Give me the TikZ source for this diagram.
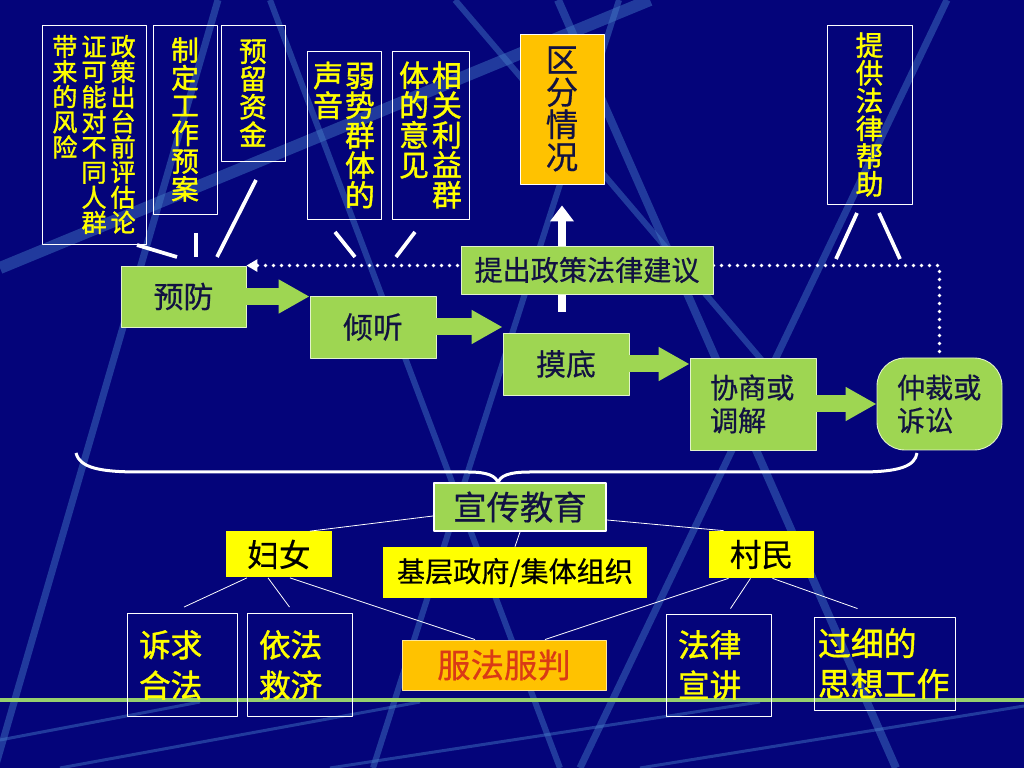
\documentclass[tikz,border=0pt]{standalone}
\usepackage{fontspec}
\setmainfont{Noto Sans CJK SC}[FakeBold=0.6]
\newfontfamily\heavyhei{Noto Sans CJK SC}[FakeBold=1.3]
\usetikzlibrary{arrows.meta,calc}
\definecolor{bgnavy}{RGB}{4,4,122}
\definecolor{bgstripe}{RGB}{70,125,200}
\definecolor{boxgreen}{RGB}{158,214,82}
\definecolor{boxyellow}{RGB}{255,255,0}
\definecolor{boxamber}{RGB}{255,194,0}
\definecolor{textnavy}{RGB}{18,18,66}
\definecolor{textred}{RGB}{218,58,22}
\definecolor{linegreen}{RGB}{150,208,110}

% vertical column of characters, top aligned
\ExplSyntaxOn
\NewDocumentCommand\vcol{m}{\vtop{\lineskiplimit=-20pt\relax\tl_map_inline:nn{#1}{\hbox{##1}}}}
\ExplSyntaxOff

\begin{document}
\begin{tikzpicture}[x=0.2mm, y=-0.2mm, line join=round,
  topbox/.style={draw=white, line width=0.5pt, text=boxyellow, inner sep=0pt},
  stepbox/.style={draw=white!70!boxgreen, line width=0.5pt, fill=boxgreen, text=textnavy, inner sep=0pt},
  flow/.style={draw=boxgreen, line width=3.4mm, -{Triangle[length=6.2mm,width=6.4mm]}},
  stroke/.style={draw=white, line width=0.75mm},
  twig/.style={draw=white, line width=0.45pt},
  tagbox/.style={fill=boxyellow, text=black, inner sep=0pt},
  leafbox/.style={draw=white, line width=0.5pt, text=boxyellow, align=left, inner ysep=0pt},
  stripe/.style={draw=bgstripe, opacity=0.45}]
  \useasboundingbox (0,0) rectangle (1024,768);

  % Background and light stripes
  \fill[bgnavy] (0,0) rectangle (1024,768);
  \begin{scope}
    \clip (0,0) rectangle (1024,768);
    \draw[stripe, line width=2.4mm] (0,268) -- (650,0);
    \draw[stripe, line width=1.4mm] (218,0) -- (-5,768);
    \draw[stripe, line width=1.2mm] (270,0) -- (560,768);
    \draw[stripe, line width=1.2mm] (619,0) -- (373,768);
    \draw[stripe, line width=1.6mm] (558,0) -- (896,768);
    \draw[stripe, line width=1.4mm] (947,0) -- (580,768);
    \draw[stripe, line width=1.2mm] (455,0) -- (800,405);
    \draw[stripe, line width=0.6mm] (60,768) -- (420,702);
    \draw[stripe, line width=0.6mm] (330,768) -- (760,702);
    \draw[stripe, line width=0.6mm] (640,768) -- (1024,706);
    \draw[stripe, line width=0.6mm] (0,740) -- (200,702);
  \end{scope}
  \draw[linegreen, line width=0.7mm] (0,700) -- (1024,700);

  % Top notes
  \node[topbox, minimum width=20.8mm, minimum height=43.8mm, font=\heavyhei\fontsize{14.3}{14.3}\selectfont] (pinggu) at (94,134.5)
    {\vcol{带来的风险}\hspace{0.8mm}\vcol{证可能对不同人群}\hspace{0.8mm}\vcol{政策出台前评估论}};
  \node[topbox, minimum width=12.8mm, minimum height=37.8mm, font=\heavyhei\fontsize{15.8}{15.8}\selectfont] (yuan) at (185,119.5)
    {\vcol{制定工作预案}};
  \node[topbox, minimum width=12.8mm, minimum height=27.2mm, font=\heavyhei\fontsize{15.8}{15.8}\selectfont] (zijin) at (253,93)
    {\vcol{预留资金}};
  \node[topbox, minimum width=14.8mm, minimum height=33.6mm, font=\heavyhei\fontsize{17}{17}\selectfont] (ruoshi) at (344,135)
    {\vcol{声音}\hspace{0.4mm}\vcol{弱势群体的}};
  \node[topbox, minimum width=15.4mm, minimum height=33.6mm, font=\heavyhei\fontsize{17}{17}\selectfont] (liyi) at (430.5,135)
    {\vcol{体的意见}\hspace{0.6mm}\vcol{相关利益群}};
  \node[topbox, fill=boxamber, text=textnavy, minimum width=16.8mm, minimum height=30mm, font=\fontsize{18.4}{18.4}\selectfont] (qufen) at (562,109)
    {\vcol{区分情况}};
  \node[topbox, minimum width=17mm, minimum height=35.8mm, font=\heavyhei\fontsize{15.8}{15.8}\selectfont] (bangzhu) at (869.5,114.5)
    {\vcol{提供法律帮助}};

  % Short strokes under the notes
  \draw[stroke] (137,245) -- (177,257);
  \draw[stroke] (196,233) -- (196,257);
  \draw[stroke] (256,180) -- (217,257);
  \draw[stroke] (335,232) -- (355,257);
  \draw[stroke] (415,232) -- (396,257);
  \draw[stroke] (857,213) -- (836,259);
  \draw[stroke] (879,213) -- (900,259);

  % Steps
  \node[stepbox, minimum width=25mm, minimum height=12.2mm, font=\fontsize{17}{17}\selectfont] (yufang) at (183.5,296.5) {预防};
  \node[stepbox, minimum width=25.2mm, minimum height=12.4mm, font=\fontsize{17}{17}\selectfont] (qingting) at (373,327) {倾听};
  \node[stepbox, minimum width=25.2mm, minimum height=12.4mm, font=\fontsize{17}{17}\selectfont] (modi) at (566,364) {摸底};
  \node[stepbox, align=left, inner xsep=4mm, text width=17.2mm, minimum height=18.4mm, font=\fontsize{16}{18.7}\selectfont] (xieshang) at (753,404) {协商或\\调解};
  \node[stepbox, rounded corners=5.6mm, align=left, inner xsep=4mm, text width=17mm, minimum height=18.4mm, font=\fontsize{16}{18.7}\selectfont] (zhongcai) at (939.5,404) {仲裁或\\诉讼};

  \draw[flow] (yufang.east) -- (qingting.west |- yufang.east);
  \draw[flow] (qingting.east) -- (modi.west |- qingting.east);
  \draw[flow] (modi.east) -- (xieshang.west |- modi.east);
  \draw[flow] (xieshang.east) -- (zhongcai.west);

  % Feedback and proposal
  \coordinate (upfoot) at (562,312);
  \draw[white, line width=1.6mm, -{Triangle[length=3.2mm,width=4.6mm]}, shorten >=4.2mm] (upfoot) -- (qufen.south);
  \draw[white, line width=0.75mm, line cap=round, dash pattern=on 0pt off 1.6mm, shorten <=1.2mm,
    -{Triangle[length=2.2mm,width=2.4mm]}] (zhongcai.north) |- (yufang.north east);
  \node[stepbox, minimum width=50.4mm, minimum height=9.6mm, font=\fontsize{16}{16}\selectfont] (tichu) at (587,270) {提出政策法律建议};

  % Brace
  \draw[white, line width=0.6mm] (76,453) .. controls (80,468) and (100,472) .. (140,472) -- (468,472)
    .. controls (488,472) and (496,476) .. (498,483) .. controls (500,476) and (508,472) .. (530,472)
    -- (860,472) .. controls (900,472) and (915,466) .. (917,453);

  % Education tree
  \node[stepbox, draw=white, line width=1.2pt, minimum width=34.4mm, minimum height=9.6mm, font=\fontsize{19}{19}\selectfont] (xuanchuan) at (520,507) {宣传教育};
  \node[tagbox, minimum width=21.2mm, minimum height=9.2mm, font=\fontsize{18}{18}\selectfont] (funv) at (279,554.5) {妇女};
  \node[tagbox, minimum width=52.8mm, minimum height=10.2mm, font=\fontsize{16}{16}\selectfont] (jiceng) at (515,572.5) {基层政府/集体组织};
  \node[tagbox, minimum width=21mm, minimum height=9.4mm, font=\fontsize{18}{18}\selectfont] (cunmin) at (761.5,554.5) {村民};

  \node[leafbox, inner xsep=2.4mm, text width=17.2mm, minimum height=20.6mm, font=\heavyhei\fontsize{18}{23}\selectfont] (suqiu) at (182,665) {诉求\\合法};
  \node[leafbox, inner xsep=2.4mm, text width=16.2mm, minimum height=20.6mm, font=\heavyhei\fontsize{18}{23}\selectfont] (yifa) at (299.5,665) {依法\\救济};
  \node[topbox, draw=white!60!boxamber, fill=boxamber, text=textred, minimum width=40.8mm, minimum height=10mm, font=\fontsize{19}{19}\selectfont] (fufa) at (504,665) {服法服判};
  \node[leafbox, inner xsep=2.4mm, text width=16.2mm, minimum height=20.4mm, font=\heavyhei\fontsize{18}{23}\selectfont] (falv) at (718.5,665) {法律\\宣讲};
  \node[leafbox, inner xsep=0.8mm, text width=26.6mm, minimum height=18.6mm, font=\heavyhei\fontsize{18.7}{23}\selectfont] (guoxi) at (884.5,663.5) {过细的\\思想工作};

  \draw[twig] ($(xuanchuan.west)+(0,9)$) -- ($(funv.north)+(31,0)$);
  \draw[twig] ($(xuanchuan.east)+(0,13)$) -- ($(cunmin.north)+(-38,0)$);
  \draw[twig] (xuanchuan.south) -- (jiceng.north);
  \draw[twig] ($(funv.south)+(-32,0)$) -- ($(suqiu.north)+(2,-6)$);
  \draw[twig] ($(funv.south)+(-11,0)$) -- ($(yifa.north)+(-10,-6)$);
  \draw[twig] ($(funv.south)+(11,0)$) -- ($(fufa.north)+(-29,0)$);
  \draw[twig] ($(cunmin.south)+(-33,0)$) -- ($(fufa.north)+(41,0)$);
  \draw[twig] ($(cunmin.south)+(-11,0)$) -- ($(falv.north)+(12,-5)$);
  \draw[twig] ($(cunmin.south)+(11,0)$) -- ($(guoxi.north)+(-27,-8)$);
\end{tikzpicture}
\end{document}
